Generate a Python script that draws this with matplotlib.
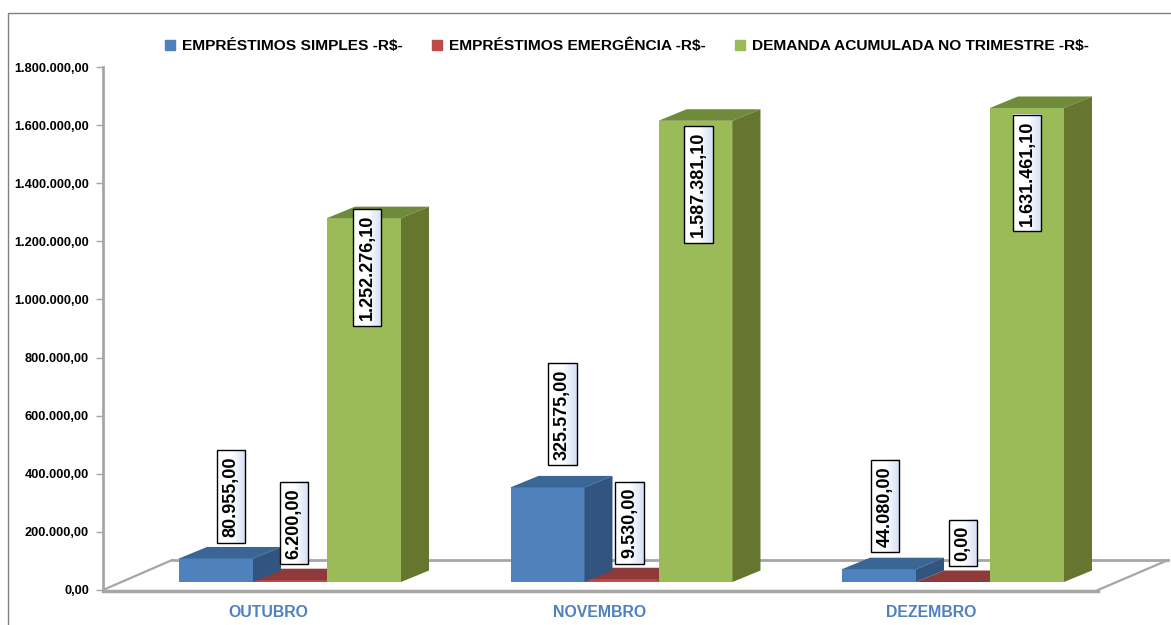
import numpy as np
import matplotlib
matplotlib.use("Agg")
import matplotlib.pyplot as plt
from matplotlib.colors import LinearSegmentedColormap
from matplotlib.patches import Rectangle

plt.rcParams["font.family"] = ["Liberation Sans", "DejaVu Sans"]
plt.rcParams["font.weight"] = "bold"

meses = ["OUTUBRO", "NOVEMBRO", "DEZEMBRO"]
simples = [80955.00, 325575.00, 44080.00]
emergencia = [6200.00, 9530.00, 0.00]
demanda = [1252276.10, 1587381.10, 1631461.10]

nomes = ["EMPRÉSTIMOS SIMPLES -R$-", "EMPRÉSTIMOS EMERGÊNCIA -R$-", "DEMANDA ACUMULADA NO TRIMESTRE -R$-"]
rotulos_simples = ["80.955,00", "325.575,00", "44.080,00"]
rotulos_emergencia = ["6.200,00", "9.530,00", "0,00"]
rotulos_demanda = ["1.252.276,10", "1.587.381,10", "1.631.461,10"]
yticks = [0, 200000, 400000, 600000, 800000, 1000000, 1200000, 1400000, 1600000, 1800000]
ylabels = ["0,00", "200.000,00", "400.000,00", "600.000,00", "800.000,00", "1.000.000,00",
           "1.200.000,00", "1.400.000,00", "1.600.000,00", "1.800.000,00"]

W, H = 1171, 625
fig = plt.figure(figsize=(W / 100, H / 100), dpi=100)
ax = fig.add_axes([103 / W, 1 - 590 / H, (W - 103) / W, 523 / H])

# scale: one group = 331.5 px, first group centred at x=290 px
px_x = 1 / 331.5
px_y = 1800000 / 523
xlim = ((103 - 290) * px_x, (W - 290) * px_x)
ylim = (0, 1800000)
ax.set_xlim(xlim)
ax.set_ylim(ylim)

larg = 74 * px_x
base = 8 * px_y
dx = 28 * px_x
dy = 11.5 * px_y


def barra(x, v, frente, topo, lado, z):
    e = x - larg / 2
    d = x + larg / 2
    t = base + v
    ax.bar(x, v, larg, bottom=base, color=frente, zorder=z)
    ax.fill([e, e + dx, d + dx, d], [t, t + dy, t + dy, t], color=topo, lw=0, zorder=z)
    ax.fill([d, d + dx, d + dx, d], [base, base + dy, t + dy, t], color=lado, lw=0, zorder=z)


x = np.arange(3)
for i in x:
    barra(i, emergencia[i], "#be4b48", "#8e3a38", "#8e3a38", 3)
    barra(i - 74 * px_x, simples[i], "#4f81bd", "#3a6595", "#32557f", 4)
    barra(i + 74 * px_x, demanda[i], "#9bbb59", "#6f8a3a", "#66762f", 5)

# floor of the 3D chart
cinza = "#a6a6a6"
ax.plot([(172 - 290) * px_x, (1168 - 290) * px_x], [103000, 103000], color=cinza, lw=2, zorder=1)
ax.plot([(103 - 290) * px_x, (172 - 290) * px_x], [0, 103000], color=cinza, lw=1.6, zorder=1)
ax.plot([(1098 - 290) * px_x, (1168 - 290) * px_x], [0, 103000], color=cinza, lw=1.6, zorder=1)
ax.plot([(103 - 290) * px_x, (1098 - 290) * px_x], [-3000, -3000], color=cinza, lw=2.5, zorder=1, clip_on=False)

for s in ["top", "right", "bottom"]:
    ax.spines[s].set_visible(False)
ax.spines["left"].set_color(cinza)
ax.spines["left"].set_linewidth(2)
ax.set_yticks(yticks)
ax.set_yticklabels(ylabels, fontsize=9.2, color="black")
ax.tick_params(axis="y", length=5, width=1, color=cinza, pad=5)
ax.set_xticks(x - 22 * px_x)
ax.set_xticklabels(meses, fontsize=11.4, color="#4f81bd")
ax.tick_params(axis="x", length=0, pad=11)

# data labels, centre of each box in px relative to the top of its bar
desloc_simples = [(15, 62), (15, 73), (6, 63)]
desloc_emerg = [(4, 57), (8, 56), (10, 39)]
desloc_demanda = [(3, -49), (3, -64), (0, -65)]
caixa = dict(boxstyle="square,pad=0.32", fc="none", ec="black", lw=1)
textos = []
for i in x:
    for xb, v, txt, off in [(i - 74 * px_x, simples[i], rotulos_simples[i], desloc_simples[i]),
                            (i, emergencia[i], rotulos_emergencia[i], desloc_emerg[i]),
                            (i + 74 * px_x, demanda[i], rotulos_demanda[i], desloc_demanda[i])]:
        textos.append(ax.annotate(txt, (xb, base + v), xytext=(off[0] * 0.72, off[1] * 0.72),
                                  textcoords="offset points", rotation=90, ha="center", va="center",
                                  fontsize=13, bbox=caixa, zorder=11))

# white to pale blue fill behind each label box
fig.canvas.draw()
degrade = LinearSegmentedColormap.from_list("degrade", ["#ffffff", "#ffffff", "#d5dff5"])
inv = ax.transData.inverted()
for t in textos:
    bb = t.get_bbox_patch().get_window_extent().transformed(inv)
    ax.imshow(np.linspace(0, 1, 32).reshape(1, -1), cmap=degrade, aspect="auto", zorder=10,
              extent=(bb.x0, bb.x1, bb.y0, bb.y1), interpolation="bilinear")
ax.set_xlim(xlim)
ax.set_ylim(ylim)

# legend
cores = ["#4f81bd", "#be4b48", "#9bbb59"]
handles = [Rectangle((0, 0), 1, 1, color=c) for c in cores]
fig.legend(handles, nomes, loc="center", bbox_to_anchor=(627 / W, 1 - 46 / H), ncol=3, frameon=False,
           fontsize=11.15, handlelength=0.65, handleheight=0.65, handletextpad=0.45, columnspacing=1.9)

# outer frame
fig.add_artist(Rectangle((8 / W, -0.1), 1.1, 1.1 - 13 / H, transform=fig.transFigure, fill=False,
                         ec="#808080", lw=1))

fig.savefig("out.png", dpi=100)
